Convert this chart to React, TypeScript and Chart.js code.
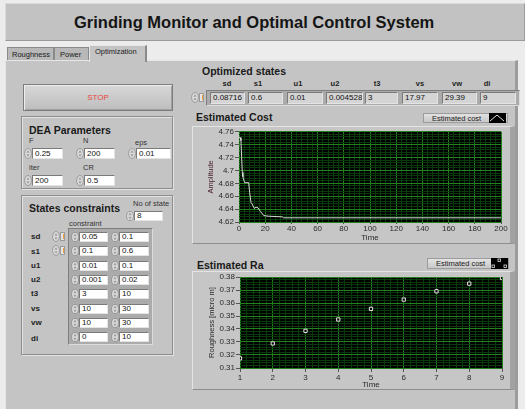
import React, { useEffect, useRef } from 'react';
import { Chart, registerables } from 'chart.js';

Chart.register(...registerables);

// ---------- data ----------
const costTime = [0, 1, 1.5, 2.5, 3, 4.3, 7.4, 8.1, 9.2, 10, 11.7, 13, 14.5, 16.3, 18.9, 22.2, 33, 34, 200];
const costValue = [4.752, 4.751, 4.746, 4.697, 4.69, 4.681, 4.681, 4.666, 4.65, 4.648, 4.641, 4.643, 4.642, 4.6365, 4.63, 4.629, 4.628, 4.6265, 4.6265];
const costXTicks = ['0', '20', '40', '60', '80', '100', '120', '140', '160', '180', '200'];
const costYTicks = ['4.62', '4.64', '4.66', '4.68', '4.7', '4.72', '4.74', '4.76'];

const raTime = [1, 2, 3, 4, 5, 6, 7, 8, 9];
const raValue = [0.3174, 0.3289, 0.3386, 0.3473, 0.3555, 0.3626, 0.369, 0.3749, 0.3792];
const raXTicks = ['1', '2', '3', '4', '5', '6', '7', '8', '9'];
const raYTicks = ['0.31', '0.32', '0.33', '0.34', '0.35', '0.36', '0.37', '0.38'];

const stateNames = ['sd', 's1', 'u1', 'u2', 't3', 'vs', 'vw', 'di'];
const optimizedValues = ['0.08716', '0.6', '0.01', '0.004528', '3', '17.97', '29.39', '9'];
const constraintMin = ['0.05', '0.1', '0.01', '0.001', '3', '10', '10', '0'];
const constraintMax = ['0.1', '0.6', '0.1', '0.02', '10', '30', '30', '10'];

const F = '"Liberation Sans", Arial, sans-serif';
Chart.defaults.font.family = F;

const near = (a: number, b: number) => Math.abs(a - b) < 1e-7;
const findLabel = (labels: string[], v: number) => labels.find((l) => near(parseFloat(l), v));

const plotBg = {
  id: 'plotBg',
  beforeDraw(chart: any) {
    const { ctx, chartArea: a } = chart;
    ctx.save();
    ctx.fillStyle = '#000';
    ctx.fillRect(a.left, a.top, a.width, a.height);
    ctx.restore();
  },
};

function axis(labels: string[], min: number, max: number, step: number, opts: any) {
  const isMaj = (v: number) => findLabel(labels, v) !== undefined;
  return {
    type: 'linear',
    position: opts.position,
    min,
    max,
    border: { display: false },
    ticks: {
      stepSize: step,
      autoSkip: false,
      maxRotation: 0,
      padding: opts.padding,
      color: '#2a2a2a',
      font: { size: 8, family: F },
      callback: (v: number) => findLabel(labels, v) ?? '',
    },
    grid: {
      color: (c: any) => (c.tick && isMaj(c.tick.value) ? '#22801f' : '#083a0b'),
      tickColor: (c: any) => (c.tick && isMaj(c.tick.value) ? '#555' : 'rgba(0,0,0,0)'),
      tickLength: opts.tickLength,
      lineWidth: 1,
    },
    title: {
      display: true,
      text: opts.title,
      color: opts.titleColor,
      font: { size: opts.titleSize, family: F },
      padding: opts.titlePadding,
    },
    afterFit: opts.afterFit,
  };
}

function CostChart() {
  const ref = useRef<HTMLCanvasElement>(null);
  useEffect(() => {
    const chart = new Chart(ref.current!, {
      type: 'line',
      data: {
        datasets: [
          {
            data: costTime.map((t, i) => ({ x: t, y: costValue[i] })),
            borderColor: '#d8d8d8',
            borderWidth: 1,
            pointRadius: 0,
            tension: 0,
          },
        ],
      },
      options: {
        animation: false,
        responsive: false,
        events: [],
        layout: { padding: { top: 5, right: 11, left: 0, bottom: 0 } },
        plugins: { legend: { display: false }, tooltip: { enabled: false } },
        scales: {
          x: axis(costXTicks, 0, 200, 4, {
            position: 'bottom', padding: 0, tickLength: 2, title: 'Time', titleColor: '#2a2a2a', titleSize: 8,
            titlePadding: { top: 0, bottom: 1 }, afterFit: (s: any) => { s.height = 22; },
          }),
          y: axis(costYTicks, 4.62, 4.76, 0.004, {
            position: 'left', padding: 1, tickLength: 4, title: 'Amplitude', titleColor: '#4a2232', titleSize: 7.5,
            titlePadding: { top: 14, bottom: 0 }, afterFit: (s: any) => { s.width = 47; },
          }),
        },
      } as any,
      plugins: [plotBg],
    });
    return () => chart.destroy();
  }, []);
  return <canvas ref={ref} width={320} height={118} style={{ position: 'absolute', left: 192, top: 126, width: 320, height: 118 }} />;
}

function RaChart() {
  const ref = useRef<HTMLCanvasElement>(null);
  useEffect(() => {
    const chart = new Chart(ref.current!, {
      type: 'scatter',
      data: {
        datasets: [
          {
            data: raTime.map((t, i) => ({ x: t, y: raValue[i] })),
            pointStyle: 'rect',
            pointRotation: 0,
            pointRadius: 2.3,
            borderColor: '#e6e6e6',
            backgroundColor: '#000',
            borderWidth: 1,
          },
        ],
      },
      options: {
        animation: false,
        responsive: false,
        events: [],
        elements: { point: { pointStyle: 'rect' } },
        layout: { padding: { top: 6, right: 10, left: 0, bottom: 0 } },
        plugins: { legend: { display: false }, tooltip: { enabled: false } },
        scales: {
          x: axis(raXTicks, 1, 9, 0.2, {
            position: 'bottom', padding: 1, tickLength: 4, title: 'Time', titleColor: '#2a2a2a', titleSize: 8,
            titlePadding: { top: 0, bottom: 0 }, afterFit: (s: any) => { s.height = 22; },
          }),
          y: axis(raYTicks, 0.31, 0.38, 0.002, {
            position: 'left', padding: 1, tickLength: 4, title: 'Roughness [micro m]', titleColor: '#2a2a2a', titleSize: 7.5,
            titlePadding: { top: 15, bottom: 0 }, afterFit: (s: any) => { s.width = 48; },
          }),
        },
      } as any,
      plugins: [plotBg],
    });
    return () => chart.destroy();
  }, []);
  return <canvas ref={ref} width={320} height={119} style={{ position: 'absolute', left: 192, top: 271, width: 320, height: 119 }} />;
}

// ---------- small widgets ----------
const abs = (l: number, t: number, w: number, h: number, extra: any = {}) => ({
  position: 'absolute' as const, left: l, top: t, width: w, height: h, boxSizing: 'border-box' as const, ...extra,
});

function Spinner({ x, y, h = 11 }: { x: number; y: number; h?: number }) {
  const m = h / 2;
  return (
    <svg style={{ position: 'absolute', left: x, top: y }} width={8} height={h}>
      <ellipse cx={4} cy={m} rx={3.4} ry={m - 0.5} fill="#dedede" stroke="#8c8c8c" strokeWidth={0.8} />
      <path d={`M2.3 ${m - 0.8} L4 ${m - 3.6} L5.7 ${m - 0.8}Z`} fill="#a0a0a0" />
      <path d={`M2.3 ${m + 0.8} L4 ${m + 3.6} L5.7 ${m + 0.8}Z`} fill="#a0a0a0" />
    </svg>
  );
}

function Field({ x, y, w, h, text, bg = '#fff' }: any) {
  return (
    <div
      style={abs(x, y, w, h, {
        background: bg,
        borderStyle: 'solid',
        borderWidth: 1,
        borderColor: '#7a7a7a #e4e4e4 #e4e4e4 #7a7a7a',
        fontSize: 8,
        lineHeight: `${h - 2}px`,
        paddingLeft: 2,
        color: '#111',
        overflow: 'hidden',
        whiteSpace: 'nowrap',
      })}
    >
      {text}
    </div>
  );
}

function NumCtrl({ x, y, w, h, text }: any) {
  return (
    <>
      <Spinner x={x} y={y} h={h} />
      <Field x={x + 8} y={y} w={w} h={h} text={text} />
    </>
  );
}

function IndexCtrl({ x, y }: any) {
  return (
    <>
      <Spinner x={x} y={y} h={11} />
      <div style={abs(x + 8, y + 1, 5, 9, { background: '#e6e6e6', border: '1px solid #9a9a9a' })}>
        <div style={abs(1.5, 1, 1, 5, { background: '#f0a030' })} />
      </div>
    </>
  );
}

function Text({ x, y, children, size = 8, bold = false, color = '#1a1a1a', extra = {} }: any) {
  return (
    <div style={{ position: 'absolute', left: x, top: y, fontSize: size, fontWeight: bold ? 700 : 400, color, whiteSpace: 'nowrap', lineHeight: 1, ...extra }}>
      {children}
    </div>
  );
}

function GroupBox({ x, y, w, h }: any) {
  return (
    <div
      style={abs(x, y, w, h, {
        border: '1px solid #8e8e8e',
        boxShadow: 'inset 1px 1px 0 #e2e2e2, 1px 1px 0 #e2e2e2',
      })}
    />
  );
}

function Frame({ x, y, w, h }: any) {
  return (
    <div
      style={abs(x, y, w, h, {
        background: '#c6c6c6',
        borderStyle: 'solid',
        borderWidth: '1px 5px 1px 1px',
        borderColor: '#e4e4e4 #a2a2a2 #8e8e8e #e4e4e4',
      })}
    />
  );
}

function Legend({ x, y, w, h, iconX, kind }: any) {
  return (
    <>
      <div
        style={abs(x, y, w, h, {
          background: 'linear-gradient(#e2e2e2, #c8c8c8)',
          border: '1px solid #9c9c9c',
        })}
      />
      <Text x={x + 9} y={y + 2} size={7.5} color="#222">Estimated cost</Text>
      <svg style={{ position: 'absolute', left: iconX, top: y }} width={17} height={h}>
        <rect x={0} y={0} width={17} height={h} fill="#000" />
        {kind === 'line' ? (
          <polyline points={`1,${h - 2} 8,2 15,${h - 2}`} fill="none" stroke="#e0e0e0" strokeWidth={1} />
        ) : (
          <>
            <rect x={7} y={1} width={2.5} height={2.5} fill="none" stroke="#e0e0e0" strokeWidth={0.8} />
            <rect x={1} y={h - 4} width={2.5} height={2.5} fill="none" stroke="#e0e0e0" strokeWidth={0.8} />
            <rect x={13} y={h - 4} width={2.5} height={2.5} fill="none" stroke="#e0e0e0" strokeWidth={0.8} />
          </>
        )}
      </svg>
    </>
  );
}

const optLeft = [210, 248, 287, 326, 365, 402, 442, 480];
const optWidth = [35, 35, 36, 37, 33, 36, 35, 36];
const colCenter = [227, 258, 298, 335, 377, 420, 457, 487];
const rowLabelY = [233, 248, 262, 276, 290, 305, 319, 335];

export default function App() {
  useEffect(() => {
    document.body.style.margin = '0';
  }, []);
  return (
    <div style={{ position: 'fixed', left: 0, top: 0, width: 525, height: 409, overflow: 'hidden', background: '#ececec', fontFamily: F }}>
      {/* title bar */}
      <div style={abs(5, 3, 520, 38, { background: '#c2c2c2', borderStyle: 'solid', borderWidth: 1, borderColor: '#dadada #9a9a9a #9a9a9a #dadada' })} />
      <Text x={74} y={14} size={16.5} bold color="#151515">Grinding Monitor and Optimal Control System</Text>

      {/* tabs */}
      <div style={abs(7, 47, 47, 14, { background: '#b8b8b8', border: '1px solid #8a8a8a', borderBottom: 'none' })} />
      <Text x={12} y={51} size={7.5}>Roughness</Text>
      <div style={abs(54, 47, 35, 14, { background: '#b8b8b8', border: '1px solid #8a8a8a', borderBottom: 'none' })} />
      <Text x={60} y={51} size={7.5}>Power</Text>

      {/* panel */}
      <div style={abs(5, 60, 513, 349, { background: '#c4c4c4', borderStyle: 'solid', borderWidth: '1px 3px 0 1px', borderColor: '#e6e6e6 #9c9c9c #9c9c9c #e6e6e6' })} />
      <div style={abs(89, 45, 58, 17, { background: '#c4c4c4', borderStyle: 'solid', borderWidth: '1px 2px 0 1px', borderColor: '#e6e6e6 #8a8a8a #8a8a8a #e6e6e6' })} />
      <Text x={95} y={48} size={7.5}>Optimization</Text>

      {/* STOP */}
      <div style={abs(23, 84, 150, 27, { background: 'linear-gradient(#d8d8d8, #bdbdbd)', border: '1px solid #7c7c7c', boxShadow: 'inset 1px 1px 0 #eeeeee, inset -1px -1px 0 #a0a0a0', color: '#e5453c', fontSize: 8, textAlign: 'center', lineHeight: '25px' })}>STOP</div>

      {/* DEA Parameters */}
      <GroupBox x={21} y={116} w={152} h={73} />
      <Text x={29} y={125} size={10.5} bold>DEA Parameters</Text>
      <Text x={29} y={137} size={7.5} color="#333">F</Text>
      <Text x={83} y={137} size={7.5} color="#333">N</Text>
      <Text x={135} y={139} size={7.5} color="#333">eps</Text>
      <NumCtrl x={24} y={148} w={31} h={11} text="0.25" />
      <NumCtrl x={76} y={148} w={31} h={11} text="200" />
      <NumCtrl x={128} y={148} w={35} h={11} text="0.01" />
      <Text x={29} y={164} size={7.5} color="#333">iter</Text>
      <Text x={83} y={164} size={7.5} color="#333">CR</Text>
      <NumCtrl x={24} y={175} w={31} h={11} text="200" />
      <NumCtrl x={76} y={175} w={31} h={11} text="0.5" />

      {/* States constraints */}
      <GroupBox x={21} y={195} w={152} h={160} />
      <Text x={29} y={203} size={10.5} bold>States constraints</Text>
      <Text x={133} y={200} size={7.5} color="#333">No of state</Text>
      <NumCtrl x={126} y={211} w={29} h={10} text="8" />
      <Text x={69} y={220} size={7.5} color="#333">constraint</Text>
      <div style={abs(68, 228, 85, 117, { background: '#ababab', borderStyle: 'solid', borderWidth: 1, borderColor: '#7e7e7e #dcdcdc #dcdcdc #7e7e7e' })} />
      {stateNames.map((n, i) => (
        <React.Fragment key={n}>
          <Text x={31} y={rowLabelY[i]} size={8} bold color="#222">{n}</Text>
          <NumCtrl x={71} y={232 + i * 14.3} w={29} h={10} text={constraintMin[i]} />
          <NumCtrl x={111} y={232 + i * 14.3} w={30} h={10} text={constraintMax[i]} />
        </React.Fragment>
      ))}
      <IndexCtrl x={52} y={231} />
      <IndexCtrl x={52} y={245} />

      {/* Optimized states */}
      <Text x={202} y={66} size={10.5} bold>Optimized states</Text>
      {stateNames.map((n, i) => (
        <Text key={n} x={colCenter[i]} y={80} size={7.5} bold color="#222" extra={{ transform: 'translateX(-50%)' }}>{n}</Text>
      ))}
      <IndexCtrl x={191} y={92} />
      <div style={abs(206, 90, 314, 16, { background: '#ababab', borderStyle: 'solid', borderWidth: 1, borderColor: '#7e7e7e #dcdcdc #dcdcdc #7e7e7e' })} />
      {optimizedValues.map((v, i) => (
        <Field key={i} x={optLeft[i]} y={92} w={optWidth[i]} h={12} text={v} bg="#d4d4d4" />
      ))}

      {/* Estimated Cost */}
      <Text x={196} y={112} size={10.5} bold>Estimated Cost</Text>
      <Legend x={423} y={113} w={85} h={10} iconX={489} kind="line" />
      <Frame x={192} y={126} w={323} h={118} />
      <CostChart />

      {/* Estimated Ra */}
      <Text x={197} y={260} size={10.5} bold>Estimated Ra</Text>
      <Legend x={427} y={258} w={82} h={11} iconX={491} kind="points" />
      <Frame x={192} y={271} w={323} h={119} />
      <RaChart />
    </div>
  );
}
